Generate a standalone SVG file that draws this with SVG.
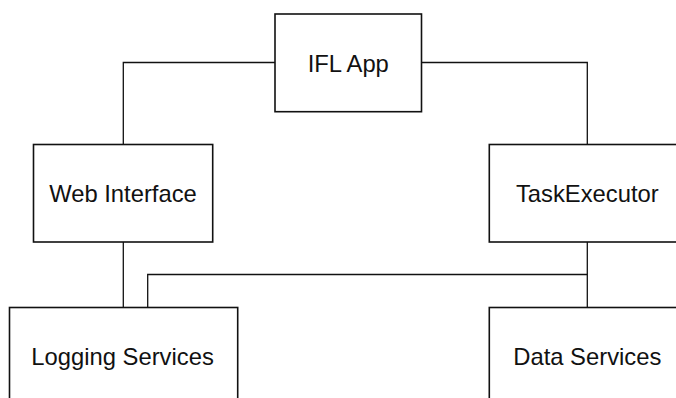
<svg xmlns="http://www.w3.org/2000/svg" width="676" height="398" viewBox="0 0 676 398">
<style>
.box{fill:#fff;stroke:#111;stroke-width:1.6}
.lbl{font-family:"Liberation Sans",Arial,sans-serif;font-size:23.8px;fill:#111;text-anchor:middle}
.conn{fill:none;stroke:#111;stroke-width:1.3}
</style>
<rect width="676" height="398" fill="#fff"/>
<g id="connectors">
<polyline class="conn" points="275,62.5 123.3,62.5 123.3,144.5"/>
<polyline class="conn" points="421.5,62.5 587.3,62.5 587.3,144.5"/>
<line class="conn" x1="123.3" y1="242" x2="123.3" y2="307.5"/>
<line class="conn" x1="587.3" y1="242" x2="587.3" y2="307.5"/>
<polyline class="conn" points="147.7,307.5 147.7,274.5 587.3,274.5"/>
</g>
<g id="ifl-app">
<rect class="box" x="275" y="14" width="146.5" height="97.7"/>
<text class="lbl" x="348.3" y="71.5">IFL App</text>
</g>
<g id="web-interface">
<rect class="box" x="33.5" y="144.5" width="179.2" height="97.5"/>
<text class="lbl" x="123" y="202">Web Interface</text>
</g>
<g id="task-executor">
<rect class="box" x="489.3" y="144.5" width="196" height="97.5"/>
<text class="lbl" x="587.3" y="202">TaskExecutor</text>
</g>
<g id="logging-services">
<rect class="box" x="9.5" y="307.5" width="228.2" height="97.5"/>
<text class="lbl" x="122.5" y="365">Logging Services</text>
</g>
<g id="data-services">
<rect class="box" x="489.3" y="307.5" width="196" height="97.5"/>
<text class="lbl" x="587.3" y="365">Data Services</text>
</g>
</svg>
